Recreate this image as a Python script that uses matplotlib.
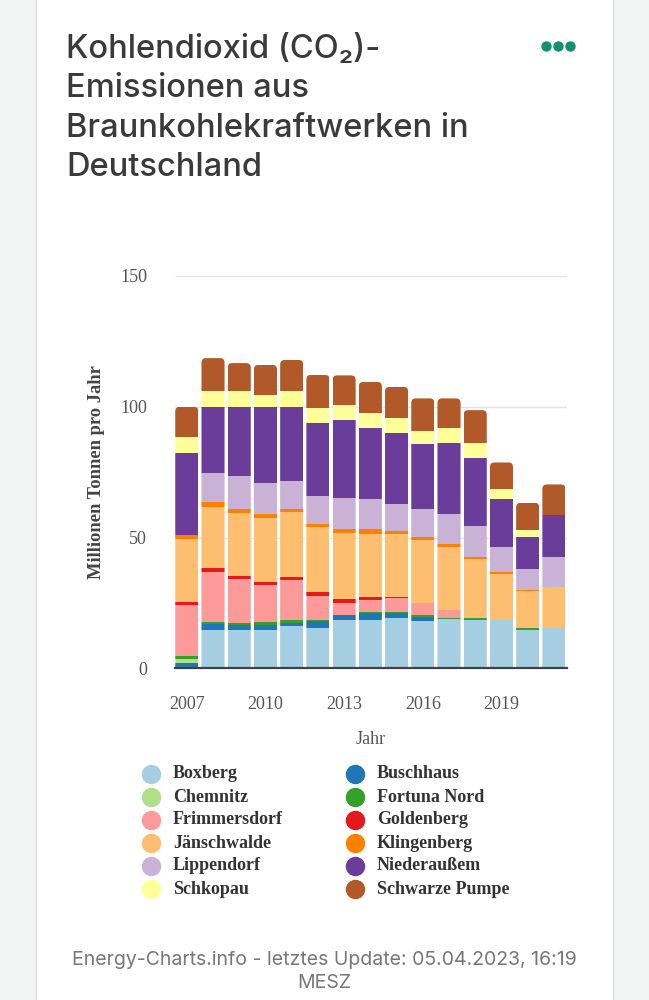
import matplotlib
matplotlib.use("Agg")
import matplotlib.pyplot as plt
from matplotlib.patches import Rectangle, FancyBboxPatch
from matplotlib.lines import Line2D
import numpy as np

# Jahre und Kraftwerke (Millionen Tonnen CO2 pro Jahr)
years = np.arange(2007, 2022)
plants = ["Boxberg", "Buschhaus", "Chemnitz", "Fortuna Nord", "Frimmersdorf",
          "Goldenberg", "Jänschwalde", "Klingenberg", "Lippendorf",
          "Niederaußem", "Schkopau", "Schwarze Pumpe"]
colors = ["#a6cee3", "#1f78b4", "#b2df8a", "#33a02c", "#fb9a99", "#e31a1c",
          "#fdbf6f", "#ff7f00", "#cab2d6", "#6a3d9a", "#ffff99", "#b15928"]

boxberg = [0, 14.7, 14.7, 14.7, 16.0, 15.3, 18.5, 18.5, 19.2, 17.9, 18.8, 18.5, 18.5, 14.7, 15.3]
buschhaus = [2.2, 2.3, 1.9, 1.9, 1.3, 2.6, 2.0, 2.6, 1.9, 1.9, 0, 0, 0, 0, 0]
chemnitz = [1.5, 0, 0, 0, 0, 0, 0, 0, 0, 0, 0, 0, 0, 0, 0]
fortuna_nord = [1.0, 0.8, 0.7, 1.2, 1.2, 0.6, 0, 0.5, 0.4, 0.7, 0.6, 0.9, 0, 0.6, 0]
frimmersdorf = [19.5, 19.0, 17.0, 14.0, 15.1, 9.1, 4.3, 4.5, 5.2, 4.3, 3.0, 0, 0, 0, 0]
goldenberg = [1.1, 1.4, 1.1, 1.2, 1.3, 1.7, 1.7, 1.0, 0.6, 0, 0, 0, 0, 0, 0]
jaenschwalde = [24.2, 23.5, 23.8, 24.3, 24.8, 24.7, 25.4, 24.2, 24.1, 24.1, 24.0, 22.4, 17.7, 14.1, 15.8]
klingenberg = [1.3, 1.9, 1.6, 1.8, 1.1, 1.3, 1.2, 1.9, 1.2, 1.2, 1.3, 0.7, 0.6, 0.7, 0]
lippendorf = [0, 11.2, 12.7, 11.9, 10.8, 10.7, 12.1, 11.6, 10.2, 10.8, 11.4, 12.1, 9.5, 7.9, 11.4]
niederaussem = [31.7, 25.0, 26.5, 28.8, 28.4, 27.8, 29.6, 27.1, 27.1, 24.7, 27.1, 26.0, 18.3, 12.1, 16.0]
schkopau = [5.8, 6.1, 5.9, 4.8, 5.9, 5.7, 5.8, 5.7, 5.8, 5.1, 5.8, 5.7, 4.1, 2.6, 0]
schwarze_pumpe = [11.7, 12.7, 10.8, 11.4, 12.0, 12.7, 11.4, 11.9, 11.9, 12.5, 11.2, 12.4, 10.0, 10.6, 11.8]

series = [boxberg, buschhaus, chemnitz, fortuna_nord, frimmersdorf, goldenberg,
          jaenschwalde, klingenberg, lippendorf, niederaussem, schkopau, schwarze_pumpe]

xticks = [2007, 2010, 2013, 2016, 2019]
yticks = [0, 50, 100, 150]

W, H = 649, 1000
fig = plt.figure(figsize=(W / 100, H / 100), dpi=100)
fig.patch.set_facecolor("#f3f4f4")

# weisse Karte
fig.add_artist(Rectangle((36 / W, -0.01), (613 - 36) / W, 1.02, transform=fig.transFigure,
                         facecolor="white", edgecolor="#dddddd", linewidth=1, zorder=0))

sans = ["Inter", "Roboto", "DejaVu Sans"]

# Titel
title_lines = ["Kohlendioxid (CO\u2082)-", "Emissionen aus", "Braunkohlekraftwerken in", "Deutschland"]
for line, base in zip(title_lines, [58, 97, 137, 176]):
    fig.text(66 / W, 1 - base / H, line, fontsize=23.5, color="#3a3a3a", fontweight="medium",
             family=sans, va="baseline", ha="left")

# Menue-Punkte
for px in [546, 558, 570]:
    fig.add_artist(Line2D([px / W], [1 - 46 / H], marker="o", markersize=6.5,
                          color="#12936c", transform=fig.transFigure))

ax = fig.add_axes([175 / W, 1 - 668.3 / H, 392 / W, (668.3 - 276) / H])
ax.set_facecolor("none")
ax.set_xlim(2006.55, 2021.5)
ax.set_ylim(0, 150)

bar_w = 0.88
bottom = np.zeros(len(years))
containers = []
for vals, col in zip(series, colors):
    vals = np.array(vals, dtype=float)
    bc = ax.bar(years, vals, bottom=bottom, width=bar_w, color=col, linewidth=0, zorder=3)
    containers.append(bc)
    bottom += vals
totals = bottom

# abgerundete obere Ecken per Clip-Pfad
fig.canvas.draw()
bb = ax.get_window_extent()
px_x = bb.width / (2021.5 - 2006.55)
px_y = bb.height / 150
aspect = px_x / px_y
r = 4.5 / px_x
for j, yr in enumerate(years):
    clip = FancyBboxPatch((yr - bar_w / 2, -10), bar_w, totals[j] + 10,
                          boxstyle=f"round,pad=0,rounding_size={r}",
                          mutation_aspect=aspect, transform=ax.transData)
    for bc in containers:
        bc.patches[j].set_clip_path(clip)

ax.set_yticks(yticks)
ax.set_xticks(xticks)
ax.grid(axis="y", color="#e3e3e3", linewidth=1, zorder=0)
ax.tick_params(length=0, pad=20, labelsize=13, labelcolor="#555555")
for lab in ax.get_xticklabels() + ax.get_yticklabels():
    lab.set_family("Liberation Serif")
for s in ["top", "right", "left"]:
    ax.spines[s].set_visible(False)
ax.spines["bottom"].set_color("#3d4247")
ax.spines["bottom"].set_linewidth(1.6)
ax.spines["bottom"].set_zorder(4)

ax.set_xlabel("Jahr", family="Liberation Serif", fontsize=13, color="#555555")
ax.xaxis.set_label_coords(0.5, -0.16)
ax.set_ylabel("Millionen Tonnen pro Jahr", family="Liberation Serif", fontsize=13.3,
              fontweight="bold", color="#444444")
ax.yaxis.set_label_coords(-0.179, 0.5)

# Legende
for i, (name, col) in enumerate(zip(plants, colors)):
    row, c = divmod(i, 2)
    y = 1 - (774 + row * 23) / H
    mx = 151 if c == 0 else 355
    tx = 173 if c == 0 else 377
    fig.add_artist(Line2D([mx / W], [y], marker="o", markersize=13, color=col,
                          transform=fig.transFigure))
    fig.text(tx / W, y, name, family="Liberation Serif", fontweight="bold",
             fontsize=13, color="#333333", va="center", ha="left")

# Fusszeile
fig.text(324.5 / W, 1 - 960 / H, "Energy-Charts.info - letztes Update: 05.04.2023, 16:19",
         family=sans, fontsize=14, color="#777777", ha="center", va="center")
fig.text(324.5 / W, 1 - 983 / H, "MESZ", family=sans, fontsize=14,
         color="#777777", ha="center", va="center")

fig.savefig("out.png", dpi=100, facecolor=fig.get_facecolor())
